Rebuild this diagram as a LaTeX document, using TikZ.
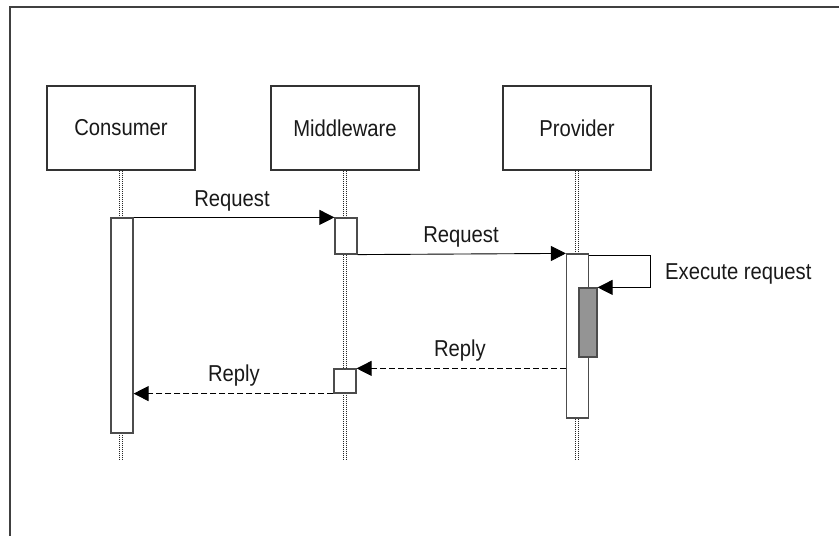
\documentclass[tikz,border=0pt]{standalone}
\usepackage{fontspec}
\setmainfont{Liberation Sans}[FakeStretch=0.88]
\usetikzlibrary{arrows.meta}
\begin{document}
\begin{tikzpicture}[x=1pt,y=-1pt,
  lbl/.style={font=\fontsize{23}{26}\selectfont, text=black!90, inner sep=0pt},
  actor/.style={draw=black!80, line width=1.2pt, fill=white, minimum width=148pt, minimum height=84pt, inner sep=0pt, font=\fontsize{23}{26}\selectfont, text=black!90},
  actbar/.style={draw=black!70, line width=1.2pt, fill=white, inner sep=0pt, minimum width=22pt},
  lifeline/.style={draw=black!85, line width=1pt, dash pattern=on 1pt off 1pt},
  msg/.style={draw=black, line width=0.9pt, -{Triangle[length=15pt,width=15pt]}},
  reply/.style={msg, dash pattern=on 6pt off 3pt},
  frameline/.style={draw=black!75, line width=1.4pt}]
\useasboundingbox (0,0) rectangle (839,536);
% frame
\coordinate (ftl) at (10,7);
\coordinate (ftr) at (839,7);
\coordinate (fbl) at (10,536);
\draw[frameline] (ftr) -- (ftl) -- (fbl);
% actors
\node[actor] (cons) at (121,128) {Consumer};
\node[actor] (mid) at (345,128) {Middleware};
\node[actor] (prov) at (577,128) {Provider};
% lifeline ends
\coordinate (cend) at (121,460);
\coordinate (mend) at (345,460);
\coordinate (pend) at (577,460);
\foreach \a/\e in {cons/cend, mid/mend, prov/pend}{
  \draw[lifeline] ([xshift=-1.6pt]\a.south) -- ([xshift=-1.6pt]\e);
  \draw[lifeline] ([xshift=1.6pt]\a.south) -- ([xshift=1.6pt]\e);
}
% activation bars
\node[actbar, minimum height=215pt] (cbar) at (122,325.5) {};
\node[actbar, minimum height=36pt] (mbar1) at (346,236) {};
\node[actbar, minimum height=164pt] (pbar) at (577.5,336) {};
\node[actbar, minimum height=24pt] (mbar2) at (345,381) {};
\node[actbar, minimum width=18pt, minimum height=69pt, fill=black!42] (gbar) at (588,322.5) {};
% messages
\draw[msg] (cbar.north east) -- (mbar1.north west);
\node[lbl, anchor=base] (l1) at (232,206) {Request};
\draw[msg] (mbar1.south east) -- (pbar.north west);
\node[lbl, anchor=base] (l2) at (461,242) {Request};
\coordinate (selfa) at ([yshift=-2pt]pbar.north east);
\draw[msg] (selfa) -- ++(61,0) |- (gbar.north east);
\node[lbl, anchor=base west] (l3) at (665,279) {Execute request};
\draw[reply] (pbar.west |- mbar2.north east) -- (mbar2.north east);
\node[lbl, anchor=base] (l4) at (460,356) {Reply};
\draw[reply] (mbar2.south west) -- (cbar.east |- mbar2.south west);
\node[lbl, anchor=base] (l5) at (234,381) {Reply};
\end{tikzpicture}
\end{document}
